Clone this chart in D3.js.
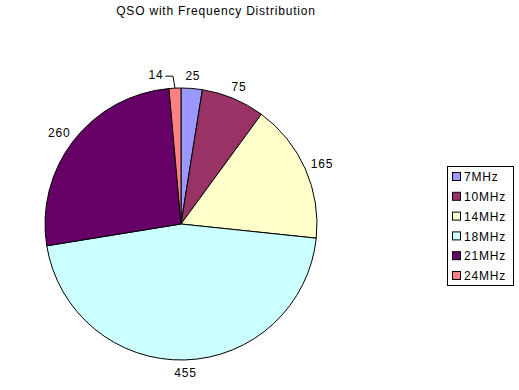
<!DOCTYPE html>
<html>
<head>
<meta charset="utf-8">
<script src="https://cdn.jsdelivr.net/npm/d3@7"></script>
<style>
  body { margin: 0; background: #fff; }
  svg { display: block; font-family: "Liberation Sans", Arial, sans-serif; }
  text { font-size: 12px; letter-spacing: 0.8px; }
</style>
</head>
<body>
<svg></svg>
<script>
// Chart data
var bands = ["7MHz", "10MHz", "14MHz", "18MHz", "21MHz", "24MHz"];
var qsos = [25, 75, 165, 455, 260, 14];
var colors = ["#9999ff", "#993366", "#ffffcc", "#ccffff", "#660066", "#ff8080"];

var w = 519, h = 390;
var cx = 181, cy = 224, radius = 136;

var svg = d3.select("svg")
    .attr("width", w)
    .attr("height", h);

// Title
svg.append("text")
    .attr("x", 216)
    .attr("y", 15)
    .attr("text-anchor", "middle")
    .text("QSO with Frequency Distribution");

var data = bands.map(function (b, i) { return { band: b, value: qsos[i], color: colors[i] }; });

var pie = d3.pie()
    .value(function (d) { return d.value; })
    .sort(null);

var arc = d3.arc()
    .innerRadius(0)
    .outerRadius(radius);

var g = svg.append("g")
    .attr("transform", "translate(" + cx + "," + cy + ")");

var arcs = pie(data);

g.selectAll("path")
    .data(arcs)
    .enter().append("path")
    .attr("d", arc)
    .attr("fill", function (d) { return d.data.color; })
    .attr("stroke", "#000")
    .attr("stroke-width", 1);

// Labels outside the pie, moved aside when they collide
var placed = [];
arcs.forEach(function (d) {
    var a = (d.startAngle + d.endAngle) / 2;
    var s = Math.sin(a), c = -Math.cos(a);
    var label = g.append("text")
        .attr("dy", "0.35em")
        .attr("text-anchor", "middle")
        .text(d.data.value);
    var tw = label.node().getComputedTextLength(), th = 12;
    var r = radius + 7;
    var x = r * s + s * tw / 2;
    var y = r * c + c * th / 2;
    var moved = false;
    placed.forEach(function (p) {
        if (Math.abs(p.x - x) < (p.w + tw) / 2 + 6 && Math.abs(p.y - y) < th) {
            x = p.x - (p.w + tw) / 2 - 22;
            moved = true;
        }
    });
    placed.push({ x: x, y: y, w: tw });
    label.attr("x", x).attr("y", y);
    if (moved) {
        var ex = radius * s, ey = radius * c;
        var lx = x + tw / 2 + 2;
        g.append("path")
            .attr("d", "M" + lx + "," + (y + 1) + "L" + (ex - 2) + "," + (y + 1) + "L" + ex + "," + ey)
            .attr("fill", "none")
            .attr("stroke", "#000")
            .attr("stroke-width", 1);
    }
});

// Legend
var legend = svg.append("g")
    .attr("transform", "translate(447,166)");

legend.append("rect")
    .attr("x", 0.5)
    .attr("y", 0.5)
    .attr("width", 66)
    .attr("height", 119)
    .attr("fill", "#fff")
    .attr("stroke", "#000");

var items = legend.selectAll(".item")
    .data(data)
    .enter().append("g")
    .attr("class", "item")
    .attr("transform", function (d, i) { return "translate(0," + (11 + i * 19.8) + ")"; });

items.append("rect")
    .attr("x", 5.5)
    .attr("y", -4.5)
    .attr("width", 8)
    .attr("height", 8)
    .attr("fill", function (d) { return d.color; })
    .attr("stroke", "#000");

items.append("text")
    .attr("x", 17)
    .attr("y", 0)
    .attr("dy", "0.35em")
    .text(function (d) { return d.band; });
</script>
</body>
</html>
